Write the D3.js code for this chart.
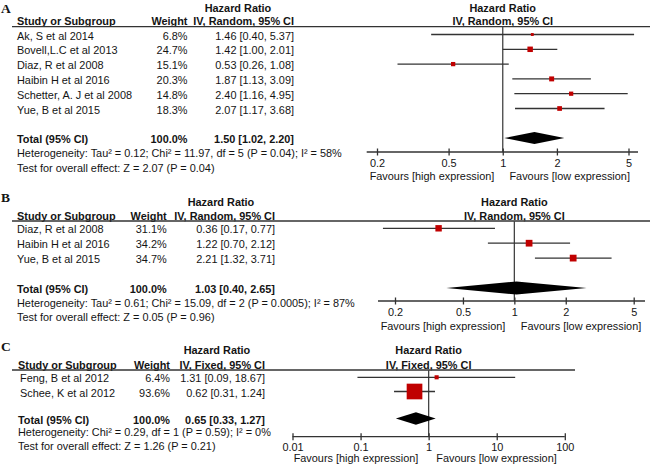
<!DOCTYPE html>
<html><head><meta charset="utf-8">
<script src="https://cdn.jsdelivr.net/npm/d3@7"></script>
<style>body{margin:0;background:#fff}svg{display:block}</style>
</head><body><svg id="chart" width="650" height="467"></svg>
<script>
// ---------------- DATA ----------------
const studiesA = ["Ak, S et al 2014","Bovell,L.C et al 2013","Diaz, R et al 2008","Haibin H et al 2016","Schetter, A. J et al 2008","Yue, B et al 2015"];
const weightsA = [6.8, 24.7, 15.1, 20.3, 14.8, 18.3];
const hrA      = [1.46, 1.42, 0.53, 1.87, 2.40, 2.07];
const lowerA   = [0.40, 1.00, 0.26, 1.13, 1.16, 1.17];
const upperA   = [5.37, 2.01, 1.08, 3.09, 4.95, 3.68];
const totalA   = [1.50, 1.02, 2.20];
const ticksA   = [0.2, 0.5, 1, 2, 5];
const tickLabelsA = ["0.2","0.5","1","2","5"];
const hetA  = "Heterogeneity: Tau\u00B2 = 0.12; Chi\u00B2 = 11.97, df = 5 (P = 0.04); I\u00B2 = 58%";
const testA = "Test for overall effect: Z = 2.07 (P = 0.04)";

const studiesB = ["Diaz, R et al 2008","Haibin H et al 2016","Yue, B et al 2015"];
const weightsB = [31.1, 34.2, 34.7];
const hrB      = [0.36, 1.22, 2.21];
const lowerB   = [0.17, 0.70, 1.32];
const upperB   = [0.77, 2.12, 3.71];
const totalB   = [1.03, 0.40, 2.65];
const ticksB   = [0.2, 0.5, 1, 2, 5];
const tickLabelsB = ["0.2","0.5","1","2","5"];
const hetB  = "Heterogeneity: Tau\u00B2 = 0.61; Chi\u00B2 = 15.09, df = 2 (P = 0.0005); I\u00B2 = 87%";
const testB = "Test for overall effect: Z = 0.05 (P = 0.96)";

const studiesC = ["Feng, B et al 2012","Schee, K et al 2012"];
const weightsC = [6.4, 93.6];
const hrC      = [1.31, 0.62];
const lowerC   = [0.09, 0.31];
const upperC   = [18.67, 1.24];
const totalC   = [0.65, 0.33, 1.27];
const ticksC   = [0.01, 0.1, 1, 10, 100];
const tickLabelsC = ["0.01","0.1","1","10","100"];
const hetC  = "Heterogeneity: Chi\u00B2 = 0.29, df = 1 (P = 0.59); I\u00B2 = 0%";
const testC = "Test for overall effect: Z = 1.26 (P = 0.21)";

const panelLabels = ["A","B","C"];
const methodLabels = ["IV, Random, 95% CI","IV, Random, 95% CI","IV, Fixed, 95% CI"];
const favourLabels = ["Favours [high expression]","Favours [low expression]"];

// ---------------- LAYOUT ----------------
const FONT = "'Liberation Sans', Arial, Helvetica, sans-serif";
const FS = 10.9;
const TXT = "#141414";
const LINE = "#333";

const layouts = [
  {labelY:8, hrY:8, hdrY:21, lineY:26.7, lineX0:12, lineX1:650, rowY0:34.5, step:14.8, totalY:138.1,
   hetY:153, testY:167.5, axisY:152, tickY:163, favY:176, studyX:17, rowX:17, weightX:187.5, ciX:294, hrX:238,
   dom:[0.2,5], rng:[377,628.5], ext:[366.7,638], favL:432, favR:569.7, sq:1.1, dh:6},
  {labelY:197.5, hrY:201.5, hdrY:215.5, lineY:221, lineX0:12, lineX1:650, rowY0:228.3, step:14.9, totalY:288,
   hetY:302.5, testY:317, axisY:301, tickY:311.7, favY:325.7, studyX:17, rowX:17, weightX:166.7, ciX:275, hrX:221,
   dom:[0.2,5], rng:[395,633.7], ext:[378,645], favL:443, favR:581, sq:1.15, dh:6.5},
  {labelY:346, hrY:350, hdrY:364.5, lineY:370, lineX0:12, lineX1:575, rowY0:377.3, step:14.2, totalY:418.5,
   hetY:431.5, testY:445.5, axisY:436.7, tickY:446.7, favY:458.3, studyX:18, rowX:20, weightX:170, ciX:265, hrX:217,
   dom:[0.01,100], rng:[292.5,564.8], ext:[292.5,564.8], favL:356, favR:496.5, sq:1.62, dh:6.3}
];

const panels = [
  {studies:studiesA, w:weightsA, hr:hrA, lo:lowerA, hi:upperA, tot:totalA, ticks:ticksA, tl:tickLabelsA, het:hetA, test:testA},
  {studies:studiesB, w:weightsB, hr:hrB, lo:lowerB, hi:upperB, tot:totalB, ticks:ticksB, tl:tickLabelsB, het:hetB, test:testB},
  {studies:studiesC, w:weightsC, hr:hrC, lo:lowerC, hi:upperC, tot:totalC, ticks:ticksC, tl:tickLabelsC, het:hetC, test:testC}
];

const svg = d3.select("#chart");
svg.append("rect").attr("width",650).attr("height",467).attr("fill","#fff");

const f2 = d3.format(".2f");
const ciText = (h,l,u) => `${f2(h)} [${f2(l)}, ${f2(u)}]`;

function txt(g, x, y, s, opt={}) {
  return g.append("text").attr("x",x).attr("y",y).text(s)
    .attr("font-family", opt.serif ? "'Liberation Serif','Times New Roman',serif" : FONT)
    .attr("font-size", opt.fs || FS)
    .attr("font-weight", opt.bold ? "bold" : "normal")
    .attr("text-anchor", opt.anchor || "start")
    .attr("dominant-baseline","central")
    .attr("fill", TXT);
}

panels.forEach((p, i) => {
  const L = layouts[i];
  const g = svg.append("g");
  const x = d3.scaleLog().domain(L.dom).range(L.rng);
  const x1 = x(1);

  txt(g, 1, L.labelY, panelLabels[i], {serif:true, bold:true, fs:13.5});

  // headers
  txt(g, L.hrX, L.hrY, "Hazard Ratio", {bold:true, anchor:"middle"});
  txt(g, L.studyX, L.hdrY, "Study or Subgroup", {bold:true});
  txt(g, L.weightX, L.hdrY, "Weight", {bold:true, anchor:"end"});
  txt(g, L.ciX, L.hdrY, methodLabels[i], {bold:true, anchor:"end"});
  txt(g, x1, L.hrY, "Hazard Ratio", {bold:true, anchor:"middle"});
  txt(g, x1, L.hdrY, methodLabels[i], {bold:true, anchor:"middle"});
  g.append("line").attr("x1",L.lineX0).attr("x2",L.lineX1).attr("y1",L.lineY).attr("y2",L.lineY)
    .attr("stroke",LINE).attr("stroke-width",1.3);

  // vertical reference line at HR = 1
  g.append("line").attr("x1",x1).attr("x2",x1).attr("y1",L.lineY).attr("y2",L.axisY)
    .attr("stroke","#444").attr("stroke-width",1.3);

  // study rows
  p.studies.forEach((s, j) => {
    const y = L.rowY0 + j * L.step;
    txt(g, L.rowX, y + 1, s);
    txt(g, L.weightX, y + 1, `${p.w[j].toFixed(1)}%`, {anchor:"end"});
    txt(g, L.ciX, y + 1, ciText(p.hr[j], p.lo[j], p.hi[j]), {anchor:"end"});
    g.append("line").attr("x1",x(p.lo[j])).attr("x2",x(p.hi[j])).attr("y1",y).attr("y2",y)
      .attr("stroke",LINE).attr("stroke-width",1.3);
    const sz = Math.max(2.8, Math.sqrt(p.w[j]) * L.sq);
    g.append("rect").attr("x",x(p.hr[j]) - sz/2).attr("y",y - sz/2).attr("width",sz).attr("height",sz)
      .attr("fill","#c00000");
  });

  // total
  const ty = L.totalY;
  txt(g, L.studyX, ty + 1, "Total (95% CI)", {bold:true});
  txt(g, L.weightX, ty + 1, "100.0%", {bold:true, anchor:"end"});
  txt(g, L.ciX, ty + 1, ciText(p.tot[0], p.tot[1], p.tot[2]), {bold:true, anchor:"end"});
  const d = [[x(p.tot[1]), ty],[x(p.tot[0]), ty - L.dh],[x(p.tot[2]), ty],[x(p.tot[0]), ty + L.dh]];
  g.append("path").attr("d", d3.line()(d) + "Z").attr("fill","#000");

  txt(g, L.studyX, L.hetY, p.het);
  txt(g, L.studyX, L.testY, p.test);

  // axis
  const ax = d3.axisBottom(x).tickValues(p.ticks).tickFormat((v, k) => p.tl[k]).tickSize(3).tickSizeOuter(0);
  const ag = g.append("g").attr("transform", `translate(0,${L.axisY})`).call(ax);
  ag.select(".domain").attr("d", `M${L.ext[0]},0H${L.ext[1]}`).attr("stroke",LINE).attr("stroke-width",1.3);
  ag.selectAll(".tick line").attr("y1",-3.5).attr("y2",3.5).attr("stroke",LINE).attr("stroke-width",1.3);
  ag.selectAll(".tick text").attr("y", L.tickY - L.axisY).attr("dy",null)
    .attr("dominant-baseline","central")
    .attr("font-family",FONT).attr("font-size",FS).attr("fill",TXT);

  txt(g, L.favL, L.favY, favourLabels[0], {anchor:"middle"});
  txt(g, L.favR, L.favY, favourLabels[1], {anchor:"middle"});
});
</script>
</body></html>
